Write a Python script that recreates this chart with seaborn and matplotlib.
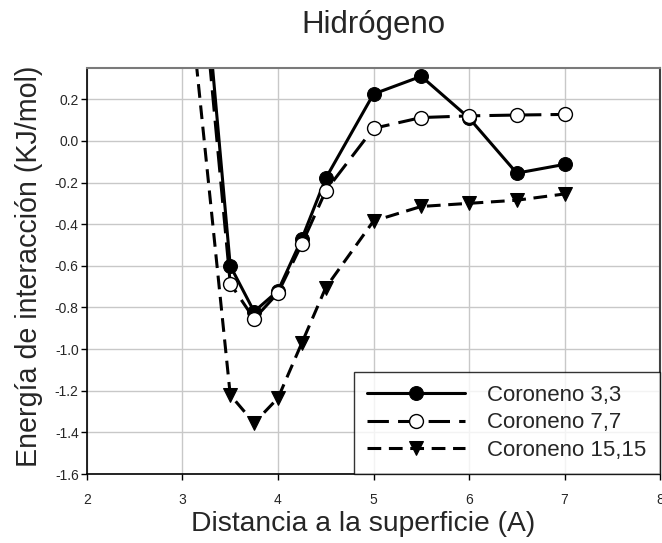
import numpy as np
import pandas as pd
import seaborn as sns
import matplotlib
matplotlib.use("Agg")
import matplotlib.pyplot as plt

# Data
dist = [3.0, 3.5, 3.75, 4.0, 4.25, 4.5, 5.0, 5.5, 6.0, 6.5, 7.0]
cor33 = [1.97, -0.60, -0.82, -0.72, -0.47, -0.18, 0.225, 0.31, 0.11, -0.155, -0.113]
cor77 = [1.78, -0.685, -0.855, -0.73, -0.495, -0.24, 0.06, 0.112, 0.12, 0.124, 0.127]
cor1515 = [1.02, -1.22, -1.355, -1.235, -0.97, -0.705, -0.385, -0.315, -0.30, -0.285, -0.255]
series_names = ["Coroneno 3,3", "Coroneno 7,7", "Coroneno 15,15"]
title = "Hidrógeno"
xlabel = "Distancia a la superficie (A)"
ylabel = "Energía de interacción (KJ/mol)"
xticks = [2, 3, 4, 5, 6, 7, 8]
yticks = [-1.6, -1.4, -1.2, -1.0, -0.8, -0.6, -0.4, -0.2, 0.0, 0.2]

sns.set_theme(style="white")
plt.rcParams['font.family'] = ['Liberation Sans', 'DejaVu Sans']

fig = plt.figure(figsize=(6.62, 5.43), dpi=100)
ax = fig.add_axes([0.1314, 0.127, 0.8656, 0.7478])

styles = [
    dict(linestyle='-', marker='o', markerfacecolor='black', markeredgecolor='black', markersize=10),
    dict(linestyle=(0, (7, 3)), marker='o', markerfacecolor='white', markeredgecolor='black', markersize=10, markeredgewidth=1.0),
    dict(linestyle=(0, (4.5, 2.5)), marker='v', markerfacecolor='black', markeredgecolor='black', markersize=10),
]
for vals, name, st in zip([cor33, cor77, cor1515], series_names, styles):
    df = pd.DataFrame({"x": dist, "y": vals})
    sns.lineplot(data=df, x="x", y="y", ax=ax, color='black', linewidth=2.2,
                 label=name, sort=False, estimator=None, **st)

ax.set_xlim(2, 8)
ax.set_ylim(-1.6, 0.35)
ax.set_xticks(xticks)
ax.set_yticks(yticks)
ax.set_xticklabels([str(t) for t in xticks], fontsize=10)
ax.set_yticklabels([f"{t:.1f}" for t in yticks], fontsize=10)
ax.grid(True, color='#c8c8c8', linewidth=1.0)
ax.set_axisbelow(True)
ax.tick_params(axis='x', direction='out', length=4, width=1, color='black', pad=10, bottom=True)
ax.tick_params(axis='y', direction='out', length=4, width=1, color='black', pad=2, left=True)
for s in ['left', 'bottom']:
    ax.spines[s].set_color('black')
    ax.spines[s].set_linewidth(1.2)
ax.spines['top'].set_color('#7a7a7a')
ax.spines['top'].set_linewidth(1.5)
ax.spines['right'].set_color('#404040')
ax.spines['right'].set_linewidth(1.5)

ax.set_xlabel(xlabel, fontsize=20.3)
ax.xaxis.set_label_coords((363 - 87) / 573.0, -0.091)
ax.set_ylabel(ylabel, fontsize=20.6)
ax.yaxis.set_label_coords(-0.077, 0.512)
ax.set_title(title, fontsize=22.5, pad=25)

leg = ax.legend(loc='lower right', fontsize=16, frameon=True, fancybox=False,
                borderaxespad=0, handlelength=4.4, borderpad=0.6, labelspacing=0.28,
                handletextpad=1.0)
leg.get_frame().set_edgecolor('black')
leg.get_frame().set_linewidth(1.0)

fig.savefig("out.png", dpi=100)
